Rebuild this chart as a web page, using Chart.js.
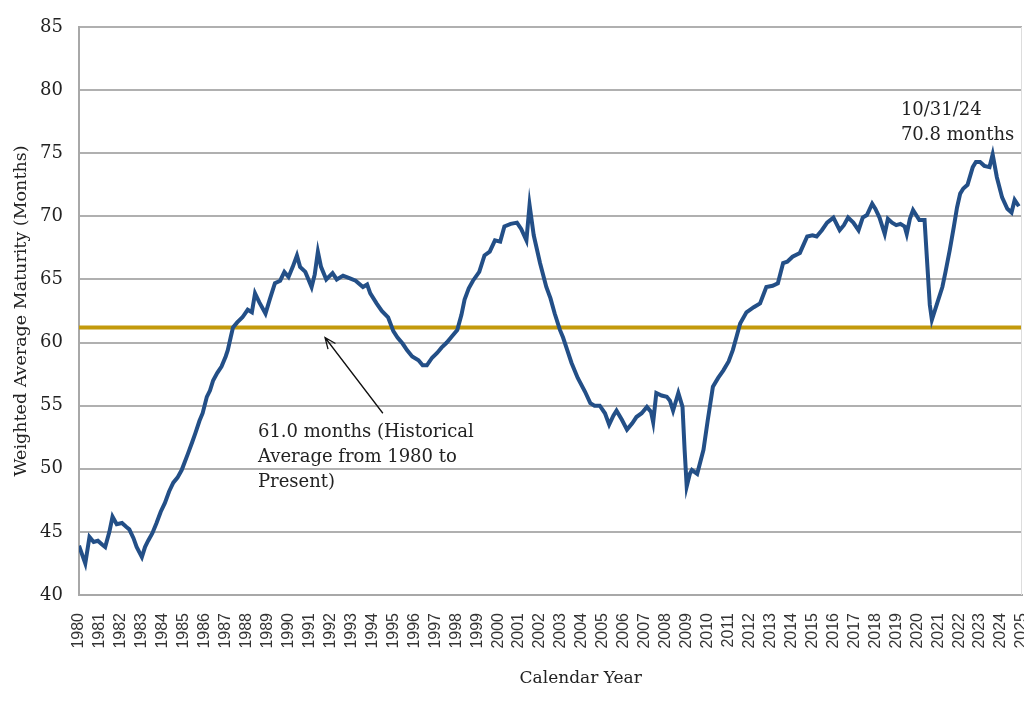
<!DOCTYPE html>
<html lang="en">
<head>
  <meta charset="utf-8">
  <script src="https://cdn.jsdelivr.net/npm/chart.js@4.4.1/dist/chart.umd.min.js"></script>
  <style>
    html, body { margin: 0; padding: 0; background: #fff; overflow: hidden; }
  </style>
</head>
<body>
<canvas id="wamChart" width="1024" height="719"></canvas>

<script>
    // decimal year of each reading
    var dates = [
      1980.0, 1980.15, 1980.3, 1980.5, 1980.7, 1980.9, 1981.1, 1981.25, 1981.45, 1981.6,
      1981.8, 1982.05, 1982.25, 1982.4, 1982.6, 1982.75, 1983.0, 1983.15, 1983.3, 1983.5,
      1983.7, 1983.9, 1984.1, 1984.3, 1984.5, 1984.7, 1984.9, 1985.2, 1985.4, 1985.55,
      1985.75, 1985.9, 1986.1, 1986.25, 1986.4, 1986.6, 1986.8, 1987.0, 1987.1, 1987.25,
      1987.35, 1987.55, 1987.8, 1988.05, 1988.25, 1988.4, 1988.6, 1988.9, 1989.1, 1989.35,
      1989.6, 1989.8, 1990.0, 1990.2, 1990.4, 1990.55, 1990.8, 1991.1, 1991.25, 1991.4,
      1991.55, 1991.8, 1992.1, 1992.3, 1992.6, 1992.9, 1993.2, 1993.55, 1993.75, 1993.9,
      1994.2, 1994.45, 1994.75, 1995.0, 1995.2, 1995.45, 1995.65, 1995.9, 1996.2, 1996.4,
      1996.6, 1996.85, 1997.1, 1997.3, 1997.55, 1997.8, 1998.05, 1998.25, 1998.4, 1998.6,
      1998.8, 1999.1, 1999.35, 1999.6, 1999.85, 2000.1, 2000.3, 2000.6, 2000.9, 2001.1,
      2001.35, 2001.5, 2001.7, 2002.0, 2002.3, 2002.5, 2002.7, 2002.95, 2003.1, 2003.3,
      2003.5, 2003.8, 2004.15, 2004.4, 2004.6, 2004.85, 2005.1, 2005.3, 2005.5, 2005.65,
      2005.9, 2006.15, 2006.4, 2006.6, 2006.85, 2007.1, 2007.3, 2007.4, 2007.55, 2007.8,
      2008.05, 2008.2, 2008.35, 2008.6, 2008.8, 2008.9, 2009.0, 2009.15, 2009.25, 2009.5,
      2009.8, 2010.0, 2010.25, 2010.5, 2010.75, 2011.0, 2011.2, 2011.4, 2011.55, 2011.85,
      2012.2, 2012.5, 2012.8, 2013.1, 2013.35, 2013.6, 2013.8, 2014.05, 2014.4, 2014.75,
      2015.0, 2015.2, 2015.45, 2015.7, 2016.0, 2016.3, 2016.5, 2016.7, 2016.95, 2017.2,
      2017.4, 2017.6, 2017.85, 2018.0, 2018.2, 2018.45, 2018.6, 2018.8, 2019.0, 2019.2,
      2019.4, 2019.5, 2019.65, 2019.8, 2020.1, 2020.35, 2020.45, 2020.6, 2020.7, 2020.95,
      2021.2, 2021.35, 2021.55, 2021.75, 2021.9, 2022.05, 2022.2, 2022.4, 2022.65, 2022.8,
      2023.0, 2023.2, 2023.45, 2023.6, 2023.8, 2024.05, 2024.3, 2024.5, 2024.65, 2024.85
    ];

    // weighted average maturity (months)
    var wam = [
      43.9, 43.2, 42.5, 44.6, 44.2, 44.3, 44.0, 43.8, 45.0, 46.2,
      45.6, 45.7, 45.4, 45.2, 44.5, 43.8, 43.0, 43.8, 44.3, 44.9,
      45.7, 46.6, 47.3, 48.2, 48.9, 49.3, 49.9, 51.2, 52.1, 52.8,
      53.8, 54.4, 55.7, 56.2, 57.0, 57.6, 58.1, 58.9, 59.4, 60.5,
      61.2, 61.6, 62.0, 62.6, 62.4, 63.9, 63.2, 62.3, 63.4, 64.7,
      64.9, 65.6, 65.2, 66.0, 66.9, 66.0, 65.6, 64.4, 65.4, 67.2,
      66.0, 65.0, 65.5, 65.0, 65.3, 65.1, 64.9, 64.4, 64.6, 63.9,
      63.1, 62.5, 62.0, 60.9, 60.4, 59.9, 59.4, 58.9, 58.6, 58.2,
      58.2, 58.8, 59.2, 59.6, 60.0, 60.5, 61.0, 62.2, 63.4, 64.3,
      64.9, 65.6, 66.9, 67.2, 68.1, 68.0, 69.2, 69.4, 69.5, 69.0,
      68.1, 70.9, 68.5, 66.3, 64.4, 63.5, 62.3, 61.0, 60.4, 59.4,
      58.4, 57.2, 56.1, 55.2, 55.0, 55.0, 54.4, 53.5, 54.2, 54.6,
      53.9, 53.1, 53.6, 54.1, 54.4, 54.9, 54.5, 53.7, 56.0, 55.8,
      55.7, 55.4, 54.6, 56.0, 54.9, 51.5, 48.6, 49.6, 49.9, 49.6,
      51.5, 53.8, 56.5, 57.2, 57.8, 58.5, 59.4, 60.6, 61.5, 62.4,
      62.8, 63.1, 64.4, 64.5, 64.7, 66.3, 66.4, 66.8, 67.1, 68.4,
      68.5, 68.4, 68.9, 69.5, 69.9, 68.9, 69.3, 69.9, 69.5, 68.9,
      69.9, 70.1, 71.0, 70.6, 69.9, 68.6, 69.8, 69.5, 69.3, 69.4,
      69.2, 68.6, 69.8, 70.5, 69.7, 69.7, 67.0, 63.0, 61.8, 63.1,
      64.4, 65.6, 67.3, 69.2, 70.7, 71.8, 72.2, 72.5, 73.9, 74.3,
      74.3, 74.0, 73.9, 74.9, 73.1, 71.5, 70.6, 70.3, 71.3, 70.8
    ];

    var histAvg = 61.2;       // historical average line
    var yearMin = 1980, yearMax = 2025;
    var yMin = 40, yMax = 85, yStep = 5;

    var noteAvg = ['61.0 months (Historical', 'Average from 1980 to', 'Present)'];
    var noteLast = ['10/31/24', '70.8 months'];
    var xTitle = 'Calendar Year';

    var serif = 'DejaVu Serif';

    // notes, arrow and the x title drawn on top
    var notesPlugin = {
      id: 'notes',
      afterDraw: function(chart) {
        var ctx = chart.ctx;
        var xs = chart.scales.x, ys = chart.scales.y;
        var area = chart.chartArea;
        ctx.save();

        // light right border of the plot
        ctx.strokeStyle = '#dddddd';
        ctx.lineWidth = 1;
        ctx.beginPath();
        ctx.moveTo(area.right - 0.5, area.top);
        ctx.lineTo(area.right - 0.5, area.bottom);
        ctx.stroke();

        ctx.fillStyle = '#222222';
        ctx.font = '18px "' + serif + '"';
        ctx.textBaseline = 'middle';
        ctx.textAlign = 'left';

        var x0 = xs.getPixelForValue(1988.54);
        var y0 = ys.getPixelForValue(52.9);
        noteAvg.forEach(function(t, i) { ctx.fillText(t, x0, y0 + i * 25); });

        var x1 = xs.getPixelForValue(2019.22);
        var y1 = ys.getPixelForValue(78.42);
        noteLast.forEach(function(t, i) { ctx.fillText(t, x1, y1 + i * 25); });

        // x axis title, sits a little right of centre in the original
        ctx.font = '17px "' + serif + '"';
        ctx.textAlign = 'center';
        ctx.fillText(xTitle, area.left + (area.right - area.left) * 0.532, area.bottom + 84);

        // arrow to the average line
        var ax = xs.getPixelForValue(1994.5), ay = ys.getPixelForValue(54.4);
        var hx = xs.getPixelForValue(1991.74), hy = ys.getPixelForValue(60.4);
        var ang = Math.atan2(hy - ay, hx - ax);
        ctx.strokeStyle = '#111111';
        ctx.lineWidth = 1.3;
        ctx.beginPath();
        ctx.moveTo(ax, ay);
        ctx.lineTo(hx, hy);
        ctx.moveTo(hx - 12 * Math.cos(ang - 0.4), hy - 12 * Math.sin(ang - 0.4));
        ctx.lineTo(hx, hy);
        ctx.lineTo(hx - 12 * Math.cos(ang + 0.4), hy - 12 * Math.sin(ang + 0.4));
        ctx.stroke();

        ctx.restore();
      }
    };

    var ctx = document.getElementById('wamChart').getContext('2d');
    var wamChart = new Chart(ctx, {
      type: 'line',
      data: {
        datasets: [{
          label: 'Weighted Average Maturity',
          data: dates.map(function(d, i) { return { x: d, y: wam[i] }; }),
          borderColor: '#234f87',
          borderWidth: 4,
          pointRadius: 0,
          tension: 0,
          order: 1
        }, {
          label: 'Historical Average',
          data: [{ x: yearMin, y: histAvg }, { x: yearMax, y: histAvg }],
          borderColor: '#c39a0c',
          borderWidth: 4,
          pointRadius: 0,
          order: 2
        }]
      },
      options: {
        responsive: false,
        animation: false,
        layout: { padding: { top: 27, right: 2, bottom: 64, left: 0 } },
        plugins: {
          legend: { display: false },
          tooltip: { enabled: false }
        },
        scales: {
          x: {
            type: 'linear',
            min: yearMin,
            max: yearMax,
            grid: { display: false },
            border: { display: true, color: '#a8a8a8', width: 2 },
            ticks: {
              stepSize: 1,
              autoSkip: false,
              maxRotation: 90,
              minRotation: 90,
              padding: 10,
              color: '#333333',
              font: { family: 'Liberation Sans', size: 16 },
              callback: function(v) { return String(v); }
            },
            afterFit: function(scale) {
              scale.height = 60;
              scale.paddingLeft = 0;
              scale.paddingRight = 0;
            }
          },
          y: {
            min: yMin,
            max: yMax,
            grid: { color: '#b0b0b0', lineWidth: 2, drawTicks: false },
            border: { display: true, color: '#a8a8a8', width: 2 },
            ticks: {
              stepSize: yStep,
              padding: 16,
              color: '#222222',
              font: { family: serif, size: 18 }
            },
            title: {
              display: true,
              text: 'Weighted Average Maturity (Months)',
              color: '#222222',
              font: { family: serif, size: 17.5 },
              padding: { top: 11, bottom: 0 }
            },
            afterFit: function(scale) {
              scale.width = 79;
            }
          }
        }
      },
      plugins: [notesPlugin]
    });
</script>
</body>
</html>
